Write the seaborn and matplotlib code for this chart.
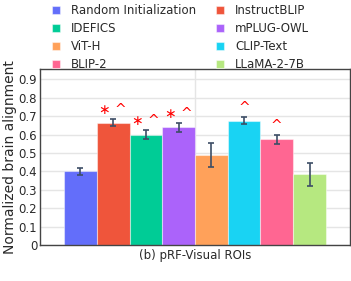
import numpy as np
import pandas as pd
import matplotlib
matplotlib.use("Agg")
import matplotlib.pyplot as plt
import seaborn as sns

models = ["Random Initialization", "InstructBLIP", "IDEFICS", "mPLUG-OWL",
          "ViT-H", "CLIP-Text", "BLIP-2", "LLaMA-2-7B"]
values = [0.40, 0.665, 0.60, 0.64, 0.49, 0.675, 0.575, 0.385]
errors = [0.020, 0.020, 0.025, 0.025, 0.065, 0.020, 0.025, 0.063]
marks = ["", "*^", "*^", "*^", "", "^", "^", ""]
colors = ["#636EFA", "#EF553B", "#00CC96", "#AB63FA",
          "#FFA15A", "#19D3F3", "#FF6692", "#B6E880"]
roi = "(b) pRF-Visual ROIs"

df = pd.DataFrame({"roi": roi, "model": models, "value": values})

sns.set_style("white")
plt.rcParams["font.family"] = ["DejaVu Sans"]

fig = plt.figure(figsize=(3.51, 2.81), dpi=100)
ax = fig.add_axes([0.114, 0.128, 0.883, 0.626])

sns.barplot(data=df, x="roi", y="value", hue="model", hue_order=models,
            palette=colors, errorbar=None, width=0.845, saturation=1,
            edgecolor=(1, 1, 1, 0.45), linewidth=0.8, legend=True, ax=ax)

# error bars and significance marks at the bar centres
for bar, v, e, m in zip(ax.patches, values, errors, marks):
    cx = bar.get_x() + bar.get_width() / 2
    ax.errorbar(cx, v, yerr=e, color="#3d4e66", capsize=2.5, elinewidth=1.2,
                capthick=1.2, zorder=5)
    if m:
        ax.text(cx, v + e + 0.01, m.replace("*", "\u2217 "), color="red",
                ha="center", va="bottom", fontsize=10)

ax.set_ylim(0, 0.955)
ax.set_xlim(-0.5, 0.5)
ax.set_yticks(np.arange(0, 1.0, 0.1))
ax.set_yticklabels(["0"] + [f"{t:.1f}" for t in np.arange(0.1, 1.0, 0.1)])
ax.set_axisbelow(True)
ax.grid(True, axis="y", color="#e5e5e5", linewidth=1)
ax.axvline(0, color="#e5e5e5", linewidth=1, zorder=0)
for s in ax.spines.values():
    s.set_color("#444444")
    s.set_linewidth(1)
ax.tick_params(axis="both", labelsize=8.5, colors="#2a2a2a", length=0, pad=2)
ax.set_xticks([])
ax.set_xlabel(roi, fontsize=8.5, color="#2a2a2a", labelpad=3)
ax.set_ylabel("Normalized brain alignment", fontsize=10, color="#2a2a2a",
              labelpad=1)

handles, labels = ax.get_legend_handles_labels()
ax.get_legend().remove()
order = [0, 2, 4, 6, 1, 3, 5, 7]
fig.legend([handles[i] for i in order], [labels[i] for i in order],
           ncol=2, loc="upper left", bbox_to_anchor=(0.118, 1.022),
           frameon=False, fontsize=8.5, handlelength=0.7, handleheight=0.7,
           handletextpad=0.9, columnspacing=1.7, labelspacing=0.42,
           labelcolor="#2a2a2a")

fig.savefig("out.png", dpi=100)
